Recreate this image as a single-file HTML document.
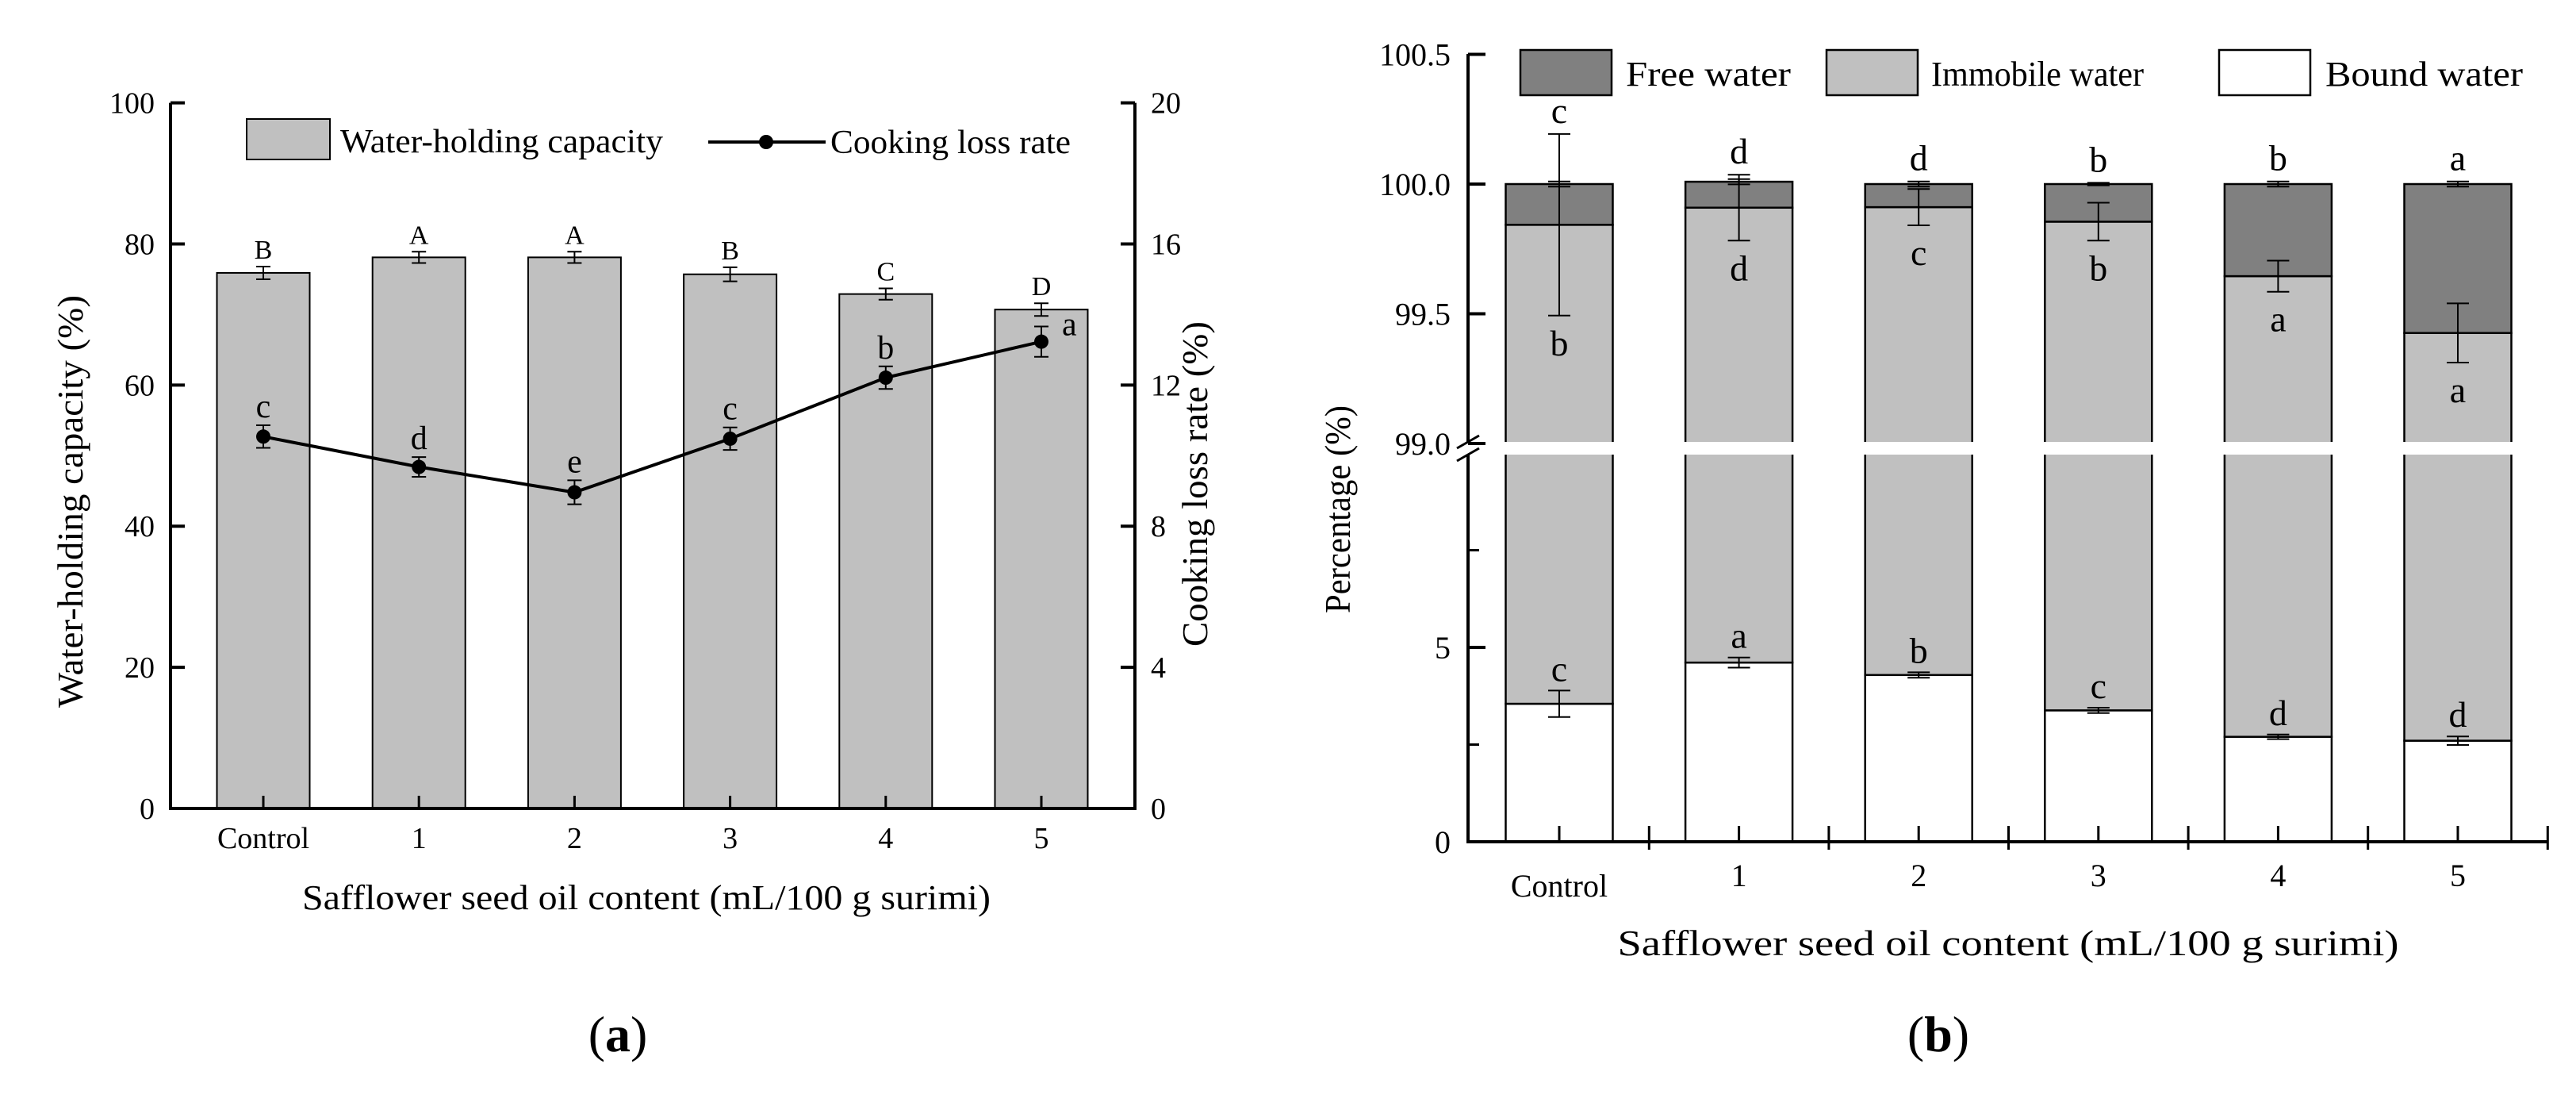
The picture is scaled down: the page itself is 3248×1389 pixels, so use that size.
<!DOCTYPE html>
<html><head><meta charset="utf-8"><style>
html,body{margin:0;padding:0;background:#fff}
svg text{font-family:"Liberation Serif",serif;fill:#000}
</style></head><body>
<svg id="fig" width="3248" height="1384" viewBox="0 0 3248 1384" xmlns="http://www.w3.org/2000/svg">
<g id="ga"></g>
<g id="gb"></g>
<text x="779" y="1325" font-size="64" text-anchor="middle">(<tspan font-weight="bold">a</tspan>)</text>
<text x="2444" y="1325" font-size="64" text-anchor="middle">(<tspan font-weight="bold">b</tspan>)</text>
</svg>
<script>
// ---- Chart a data ----
const catsA = ["Control","1","2","3","4","5"];
const whc = [75.9, 78.1, 78.1, 75.7, 72.9, 70.7];
const whcErr = [0.9, 0.8, 0.8, 1.0, 0.8, 0.9];
const whcLetters = ["B","A","A","B","C","D"];
const clr = [10.54, 9.68, 8.96, 10.48, 12.21, 13.23];
const clrErr = [0.32, 0.28, 0.34, 0.32, 0.32, 0.43];
const clrLetters = ["c","d","e","c","b","a"];
const leftTicks = [0,20,40,60,80,100];
const rightTicks = [0,4,8,12,16,20];

// ---- Chart b data ----
const catsB = ["Control","1","2","3","4","5"];
const bound = [3.55, 4.61, 4.29, 3.38, 2.70, 2.60];
const boundErr = [0.34, 0.13, 0.07, 0.07, 0.06, 0.11];
const immobile = [96.293, 95.299, 95.621, 96.475, 96.945, 96.826];
const immErr = [0.35, 0.127, 0.07, 0.073, 0.06, 0.114];
const free = [0.157, 0.10, 0.089, 0.145, 0.355, 0.574];
const freeErr = [0.01, 0.01, 0.01, 0.005, 0.01, 0.01];
const freeLetters = ["c","d","d","b","b","a"];
const immLetters = ["b","d","c","b","a","a"];
const boundLetters = ["c","a","b","c","d","d"];
const upperTicks = [99.0, 99.5, 100.0, 100.5];
const lowerTicks = [0, 5];
const lowerMinor = [2.5, 7.5];

const NS="http://www.w3.org/2000/svg";
function mk(parent,tag,attrs,txt){const e=document.createElementNS(NS,tag);for(const k in attrs)e.setAttribute(k,attrs[k]);if(txt!==undefined)e.textContent=txt;parent.appendChild(e);return e;}

// ===== Chart a =====
(function(){
const g=document.getElementById('ga');
const x0=215,x1=1431,yTop=129.6,yBot=1019;
const yL=v=>yBot-(v/100)*(yBot-yTop);
const yR=v=>yBot-(v/20)*(yBot-yTop);
const xc=i=>332+i*196.2;
const bw=117;
whc.forEach((v,i)=>{
 const r=mk(g,'rect',{x:xc(i)-bw/2,y:yL(v),width:bw,height:yBot-yL(v),fill:'#c0c0c0',stroke:'#000','stroke-width':2});
 
 
 const t=yL(v+whcErr[i]),b=yL(v-whcErr[i]);
 const e=mk(g,'path',{d:`M${xc(i)} ${t}V${b}M${xc(i)-9} ${t}H${xc(i)+9}M${xc(i)-9} ${b}H${xc(i)+9}`,stroke:'#000','stroke-width':2,fill:'none'});
 
 
 const l=mk(g,'text',{x:xc(i),y:t-10,'font-size':34,'text-anchor':'middle'},whcLetters[i]);
 
 
});
let d='';clr.forEach((v,i)=>{d+=(i?'L':'M')+xc(i)+' '+yR(v);});
const ln=mk(g,'path',{d:d,stroke:'#000','stroke-width':4,fill:'none'});


clr.forEach((v,i)=>{
 const t=yR(v+clrErr[i]),b=yR(v-clrErr[i]);
 const e=mk(g,'path',{d:`M${xc(i)} ${t}V${b}M${xc(i)-9} ${t}H${xc(i)+9}M${xc(i)-9} ${b}H${xc(i)+9}`,stroke:'#000','stroke-width':2,fill:'none'});
 
 
 const c=mk(g,'circle',{cx:xc(i),cy:yR(v),r:9,fill:'#000'});
 
 
 const last=i===clr.length-1;
 const l=mk(g,'text',{x:last?xc(i)+26:xc(i),y:last?yR(v)-8:t-10,'font-size':42,'text-anchor':last?'start':'middle'},clrLetters[i]);
 
 
});
const ax=mk(g,'path',{d:`M${x0} ${yTop}V${yBot}H${x1}V${yTop}`,stroke:'#000','stroke-width':4,fill:'none'});


leftTicks.forEach(v=>{
 const tk=mk(g,'line',{x1:x0,x2:x0+18,y1:yL(v),y2:yL(v),stroke:'#000','stroke-width':4});
 
 
 const t=mk(g,'text',{x:x0-20,y:yL(v)+13,'font-size':38,'text-anchor':'end'},String(v));
 
 
});
rightTicks.forEach(v=>{
 const tk=mk(g,'line',{x1:x1-18,x2:x1,y1:yR(v),y2:yR(v),stroke:'#000','stroke-width':4});
 
 
 const t=mk(g,'text',{x:x1+20,y:yR(v)+13,'font-size':38,'text-anchor':'start'},String(v));
 
 
});
catsA.forEach((c,i)=>{
 const tk=mk(g,'line',{x1:xc(i),x2:xc(i),y1:yBot,y2:yBot-16,stroke:'#000','stroke-width':3});
 
 
 const t=mk(g,'text',{x:xc(i),y:1069,'font-size':38,'text-anchor':'middle'},c);
 
 
});
const xt=mk(g,'text',{x:815,y:1146,'font-size':44,'text-anchor':'middle',textLength:868,lengthAdjust:'spacingAndGlyphs'},'Safflower seed oil content (mL/100 g surimi)');


const yt=mk(g,'text',{x:0,y:0,'font-size':46,'text-anchor':'middle',transform:'translate(104 632) rotate(-90)',textLength:520,lengthAdjust:'spacingAndGlyphs'},'Water-holding capacity (%)');


const yt2=mk(g,'text',{x:0,y:0,'font-size':46,'text-anchor':'middle',transform:'translate(1522 610) rotate(-90)',textLength:410,lengthAdjust:'spacingAndGlyphs'},'Cooking loss rate (%)');


const lb=mk(g,'rect',{x:311,y:150,width:105,height:51,fill:'#c0c0c0',stroke:'#000','stroke-width':2});


const lt=mk(g,'text',{x:429,y:192,'font-size':42,textLength:407,lengthAdjust:'spacingAndGlyphs'},'Water-holding capacity');


const ll=mk(g,'line',{x1:893,x2:1041,y1:179,y2:179,stroke:'#000','stroke-width':4});


const lc=mk(g,'circle',{cx:966,cy:179,r:9,fill:'#000'});


const lt2=mk(g,'text',{x:1047,y:193,'font-size':42,textLength:303,lengthAdjust:'spacingAndGlyphs'},'Cooking loss rate');


})();

// ===== Chart b =====
(function(){
const g=document.getElementById('gb');
const x0=1851,x1=3212,yAxTop=68,yBot=1061,brTop=557,brBot=573;
const yU=v=>232-(v-100)/0.5*163.5;
const yLo=v=>yBot-v/5*245;
const y=v=>v>=99?yU(v):Math.max(yLo(v),brBot);
const xc=i=>1966+i*226.6;
const bw=135;
catsB.forEach((c,i)=>{
 const b0=0,b1=bound[i],i1=bound[i]+immobile[i],f1=i1+free[i];
 const segs=[[b0,b1,'#ffffff','bound-water-segment'],[b1,i1,'#c0c0c0','immobile-water-segment'],[i1,f1,'#808080','free-water-segment']];
 segs.forEach(s=>{
  const ya=y(s[1]),yb=y(s[0]);
  const r=mk(g,'rect',{x:xc(i)-bw/2,y:ya,width:bw,height:Math.max(0,yb-ya),fill:s[2],stroke:'#000','stroke-width':2.5});
  
  
 });
 const errs=[[f1,freeErr[i]],[i1,immErr[i]],[b1,boundErr[i]]];
 errs.forEach(e=>{
  const t=y(e[0]+e[1]),b=y(e[0]-e[1]);
  const p=mk(g,'path',{d:`M${xc(i)} ${t}V${b}M${xc(i)-14} ${t}H${xc(i)+14}M${xc(i)-14} ${b}H${xc(i)+14}`,stroke:'#000','stroke-width':2,fill:'none'});
  
  
 });
 const ft=Math.min(y(f1+freeErr[i]),y(i1+immErr[i]));
 const l1=mk(g,'text',{x:xc(i),y:ft-14,'font-size':46,'text-anchor':'middle'},freeLetters[i]);
 
 
 const l2=mk(g,'text',{x:xc(i),y:y(i1-immErr[i])+50,'font-size':46,'text-anchor':'middle'},immLetters[i]);
 
 
 const l3=mk(g,'text',{x:xc(i),y:y(b1+boundErr[i])-12,'font-size':46,'text-anchor':'middle'},boundLetters[i]);
 
 
 const tk=mk(g,'line',{x1:xc(i),x2:xc(i),y1:yBot,y2:yBot-20,stroke:'#000','stroke-width':3});
 
 
 const mt=mk(g,'line',{x1:xc(i)+113.3,x2:xc(i)+113.3,y1:yBot+10,y2:yBot-20,stroke:'#000','stroke-width':3});
 
 
 const t=mk(g,'text',{x:xc(i),y:i===0?1130:1117,'font-size':40,'text-anchor':'middle'},c);
 
 
});
const gap=mk(g,'rect',{x:x0-20,y:brTop,width:x1-x0+40,height:brBot-brTop,fill:'#fff'});


const ax=mk(g,'path',{d:`M${x0} ${yAxTop}V${brTop}M${x0} ${brBot}V${yBot}H${x1}`,stroke:'#000','stroke-width':4,fill:'none'});


const bk=mk(g,'path',{d:`M${x0-14} ${brTop+8}L${x0+14} ${brTop-8}M${x0-14} ${brBot+8}L${x0+14} ${brBot-8}`,stroke:'#000','stroke-width':3,fill:'none'});


upperTicks.forEach(v=>{
 const tk=mk(g,'line',{x1:x0,x2:x0+22,y1:yU(v),y2:yU(v),stroke:'#000','stroke-width':4});
 
 
 const t=mk(g,'text',{x:x0-22,y:yU(v)+14,'font-size':40,'text-anchor':'end'},v.toFixed(1));
 
 
});
lowerTicks.forEach(v=>{
 const tk=mk(g,'line',{x1:x0,x2:x0+22,y1:yLo(v),y2:yLo(v),stroke:'#000','stroke-width':4});
 
 
 const t=mk(g,'text',{x:x0-22,y:yLo(v)+14,'font-size':40,'text-anchor':'end'},String(v));
 
 
});
lowerMinor.forEach(v=>{
 const tk=mk(g,'line',{x1:x0,x2:x0+14,y1:yLo(v),y2:yLo(v),stroke:'#000','stroke-width':3});
 
 
});
const xt=mk(g,'text',{x:2532,y:1204,'font-size':46,'text-anchor':'middle',textLength:985,lengthAdjust:'spacingAndGlyphs'},'Safflower seed oil content  (mL/100 g surimi)');


const yt=mk(g,'text',{x:0,y:0,'font-size':46,'text-anchor':'middle',transform:'translate(1702 642) rotate(-90)',textLength:262,lengthAdjust:'spacingAndGlyphs'},'Percentage (%)');


const leg=[[1917,'#808080','Free water',2050,208],[2303,'#c0c0c0','Immobile water',2435,268],[2798,'#ffffff','Bound water',2932,249]];
leg.forEach(L=>{
 const r=mk(g,'rect',{x:L[0],y:63,width:115,height:57,fill:L[1],stroke:'#000','stroke-width':2.5});
 
 
 const t=mk(g,'text',{x:L[3],y:108,'font-size':44,textLength:L[4],lengthAdjust:'spacingAndGlyphs'},L[2]);
 
 
});
})();
</script>
</body></html>
